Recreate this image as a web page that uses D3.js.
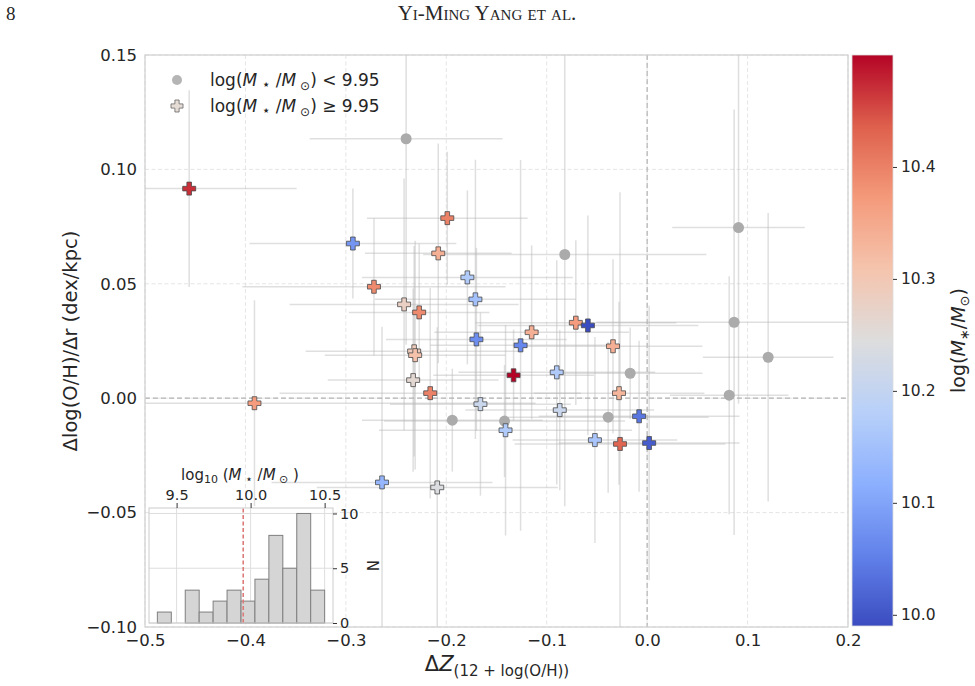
<!DOCTYPE html>
<html>
<head>
<meta charset="utf-8">
<script src="https://cdn.jsdelivr.net/npm/d3@7"></script>
<style>
body { margin: 0; background: #fff; }
svg text { font-family: "DejaVu Sans", sans-serif; fill: #262626; }
</style>
</head>
<body>
<svg id="chart" width="975" height="686"></svg>
<script>
// low mass galaxies, log(M*/Msun) < 9.95
const lowDZ = [-0.240, -0.082, 0.091, 0.0866, 0.1205, 0.0817, -0.0169, -0.0388, -0.194, -0.142]
const lowGrad = [0.1134, 0.0628, 0.0746, 0.0332, 0.0179, 0.0013, 0.0109, -0.0083, -0.0096, -0.0100]
const lowDZErr = [0.096, 0.141, 0.066, 0.137, 0.065, 0.059, 0.072, 0.100, 0.090, 0.120]
const lowGradErr = [0.090, 0.110, 0.077, 0.093, 0.063, 0.052, 0.020, 0.033, 0.0225, 0.0245]
const lowMass = [9.86, 9.64, 9.37, 9.58, 9.61, 9.70, 9.89, 9.77, 9.92, 9.81]

// high mass galaxies, log(M*/Msun) >= 9.95
const highDZ = [-0.456, -0.293, -0.199, -0.208, -0.272, -0.242, -0.227, -0.179, -0.171, -0.170,
    -0.126, -0.115, -0.071, -0.059, -0.034, -0.232, -0.231, -0.233, -0.216, -0.133,
    -0.090, -0.028, -0.391, -0.166, -0.087, -0.008, -0.141, -0.052, -0.027, 0.002,
    -0.264, -0.209]
const highGrad = [0.0916, 0.0676, 0.0787, 0.0633, 0.0487, 0.0410, 0.0375, 0.0528, 0.0432, 0.0257,
    0.0231, 0.0288, 0.0330, 0.0318, 0.0227, 0.0205, 0.0188, 0.0079, 0.0022, 0.0100,
    0.0113, 0.0022, -0.0022, -0.0026, -0.0052, -0.0079, -0.0140, -0.0183, -0.0200, -0.0196,
    -0.0368, -0.0390]
const highDZErr = [0.107, 0.103, 0.080, 0.073, 0.131, 0.114, 0.070, 0.105, 0.100, 0.090,
    0.090, 0.097, 0.100, 0.110, 0.089, 0.108, 0.090, 0.085, 0.150, 0.080,
    0.098, 0.085, 0.280, 0.090, 0.094, 0.100, 0.126, 0.082, 0.105, 0.090,
    0.110, 0.120]
const highGradErr = [0.043, 0.024, 0.029, 0.048, 0.030, 0.055, 0.030, 0.038, 0.061, 0.040,
    0.081, 0.038, 0.036, 0.048, 0.038, 0.046, 0.050, 0.040, 0.046, 0.020,
    0.049, 0.040, 0.045, 0.040, 0.035, 0.033, 0.046, 0.045, 0.110, 0.060,
    0.068, 0.070]
const highMass = [10.47, 10.08, 10.40, 10.34, 10.39, 10.28, 10.39, 10.17, 10.15, 10.07,
    10.06, 10.34, 10.37, 9.99, 10.34, 10.29, 10.31, 10.26, 10.40, 10.50,
    10.17, 10.33, 10.37, 10.21, 10.21, 10.04, 10.17, 10.16, 10.43, 10.01,
    10.13, 10.24]

const massCut = 9.95
const xTicks = [-0.5, -0.4, -0.3, -0.2, -0.1, 0.0, 0.1, 0.2]
const yTicks = [-0.10, -0.05, 0.00, 0.05, 0.10, 0.15]
const cbTicks = [10.0, 10.1, 10.2, 10.3, 10.4]
const histXTicks = [9.5, 10.0, 10.5]
const histYTicks = [0, 5, 10]
const histBins = 12

// coolwarm control colours
const coolwarm = ['#3b4cc0', '#6282ea', '#8db0fe', '#b8d0f9', '#dddddd', '#f5c4ad', '#f49a7b', '#de604d', '#b40426']

let svg = d3.select('#chart')

let plot = { left: 145, right: 848, top: 55, bottom: 627 }
let cb = { left: 852, right: 893, top: 55, bottom: 626 }
let ins = { left: 149, right: 333, top: 508, bottom: 623 }

let x = d3.scaleLinear().domain([-0.5, 0.2]).range([plot.left, plot.right])
let y = d3.scaleLinear().domain([-0.10, 0.15]).range([plot.bottom, plot.top])

let massExtent = d3.extent(highMass)
let colorScale = d3.scaleLinear()
    .domain(coolwarm.map((c, i) => massExtent[0] + (massExtent[1] - massExtent[0]) * i / (coolwarm.length - 1)))
    .range(coolwarm)
    .interpolate(d3.interpolateRgb)

function plusPath(s, a) {
    return `M${-a},${-s}H${a}V${-a}H${s}V${a}H${a}V${s}H${-a}V${a}H${-s}V${-a}H${-a}Z`
}

function rich(sel, parts) {
    parts.forEach(p => {
        sel.append('tspan')
        .text(p.t)
        .attr('font-style', p.i ? 'italic' : null)
        .attr('font-size', p.s || null)
        .attr('dy', p.dy || null)
    })
    return sel
}

// header
svg.append('text')
.attr('x', 6).attr('y', 20)
.style('font-family', '"Liberation Serif", serif')
.attr('font-size', 19)
.text('8')

svg.append('text')
.attr('x', 487).attr('y', 20)
.attr('text-anchor', 'middle')
.style('font-family', '"Liberation Serif", serif')
.style('font-variant', 'small-caps')
.attr('font-size', 21)
.text('Yi-Ming Yang et al.')

svg.append('defs').append('clipPath').attr('id', 'plot-clip')
.append('rect')
.attr('x', plot.left).attr('y', plot.top)
.attr('width', plot.right - plot.left).attr('height', plot.bottom - plot.top)

// grid
let grid = svg.append('g').attr('class', 'grid')
grid.selectAll('line.vx')
.data(xTicks)
.enter()
.append('line')
.attr('x1', d => x(d)).attr('x2', d => x(d))
.attr('y1', plot.top).attr('y2', plot.bottom)
grid.selectAll('line.hy')
.data(yTicks)
.enter()
.append('line')
.attr('x1', plot.left).attr('x2', plot.right)
.attr('y1', d => y(d)).attr('y2', d => y(d))
grid.selectAll('line')
.attr('stroke', '#e2e2e2')
.attr('stroke-width', 0.9)
.attr('stroke-dasharray', '4,2.5')

// zero lines
svg.append('line')
.attr('x1', x(0)).attr('x2', x(0)).attr('y1', plot.top).attr('y2', plot.bottom)
.attr('stroke', '#b3b3b3').attr('stroke-width', 1.2).attr('stroke-dasharray', '5,3')
svg.append('line')
.attr('x1', plot.left).attr('x2', plot.right).attr('y1', y(0)).attr('y2', y(0))
.attr('stroke', '#b3b3b3').attr('stroke-width', 1.2).attr('stroke-dasharray', '5,3')

let lowData = lowDZ.map((d, i) => ({ dz: d, g: lowGrad[i], dze: lowDZErr[i], ge: lowGradErr[i], m: lowMass[i] }))
let highData = highDZ.map((d, i) => ({ dz: d, g: highGrad[i], dze: highDZErr[i], ge: highGradErr[i], m: highMass[i] }))
let allData = lowData.concat(highData)

// error bars
let errs = svg.append('g').attr('clip-path', 'url(#plot-clip)')
errs.selectAll('line.ex')
.data(allData)
.enter()
.append('line')
.attr('x1', d => x(d.dz - d.dze)).attr('x2', d => x(d.dz + d.dze))
.attr('y1', d => y(d.g)).attr('y2', d => y(d.g))
errs.selectAll('line.ey')
.data(allData)
.enter()
.append('line')
.attr('x1', d => x(d.dz)).attr('x2', d => x(d.dz))
.attr('y1', d => y(d.g - d.ge)).attr('y2', d => y(d.g + d.ge))
errs.selectAll('line')
.attr('stroke', '#b8b8b8')
.attr('stroke-opacity', 0.45)
.attr('stroke-width', 1.5)

// markers
svg.append('g')
.selectAll('circle')
.data(lowData)
.enter()
.append('circle')
.attr('cx', d => x(d.dz))
.attr('cy', d => y(d.g))
.attr('r', 5.5)
.attr('fill', '#ababab')

svg.append('g')
.selectAll('path')
.data(highData)
.enter()
.append('path')
.attr('d', plusPath(6.5, 2.3))
.attr('transform', d => `translate(${x(d.dz)},${y(d.g)})`)
.attr('fill', d => colorScale(d.m))
.attr('stroke', '#4a4a4a')
.attr('stroke-width', 0.8)

// frame
svg.append('rect')
.attr('x', plot.left).attr('y', plot.top)
.attr('width', plot.right - plot.left).attr('height', plot.bottom - plot.top)
.attr('fill', 'none')
.attr('stroke', '#cfcfcf')
.attr('stroke-width', 1.2)

// axes
let xAxis = svg.append('g')
.attr('transform', `translate(0,${plot.bottom})`)
.call(d3.axisBottom(x).tickValues(xTicks).tickSize(0).tickPadding(7).tickFormat(d3.format('.1f')))
let yAxis = svg.append('g')
.attr('transform', `translate(${plot.left},0)`)
.call(d3.axisLeft(y).tickValues(yTicks).tickSize(0).tickPadding(8).tickFormat(d3.format('.2f')))
xAxis.select('.domain').remove()
yAxis.select('.domain').remove()
svg.selectAll('.tick text').attr('font-size', 16.5).style('font-family', '"DejaVu Sans", sans-serif').attr('fill', '#262626')

// axis labels
rich(svg.append('text')
.attr('x', 497).attr('y', 671)
.attr('text-anchor', 'middle'), [
    { t: 'Δ', s: 21 },
    { t: 'Z', s: 21, i: true },
    { t: '(12 + log(O/H))', s: 15, dy: 5 }
])

svg.append('text')
.attr('transform', `translate(77,${(plot.top + plot.bottom) / 2}) rotate(-90)`)
.attr('text-anchor', 'middle')
.attr('font-size', 19.5)
.text('Δlog(O/H)/Δr (dex/kpc)')

// legend
svg.append('circle').attr('cx', 177).attr('cy', 80).attr('r', 5).attr('fill', '#b5b5b5')
svg.append('path')
.attr('d', plusPath(6, 2.1))
.attr('transform', 'translate(177,106)')
.attr('fill', '#e6dcd6').attr('stroke', '#666').attr('stroke-width', 0.8)

let legendParts = (op) => [
    { t: 'log(' },
    { t: 'M', i: true },
    { t: ' ⋆', s: 14, dy: 3 },
    { t: ' /', dy: -3 },
    { t: 'M', i: true },
    { t: ' ⊙', s: 12, dy: 4 },
    { t: ') ' + op + ' 9.95', dy: -4 }
]
rich(svg.append('text').attr('x', 210).attr('y', 86).attr('font-size', 17), legendParts('<'))
rich(svg.append('text').attr('x', 210).attr('y', 112).attr('font-size', 17), legendParts('≥'))

// colorbar
let grad = svg.select('defs').append('linearGradient')
.attr('id', 'cw').attr('x1', 0).attr('x2', 0).attr('y1', 1).attr('y2', 0)
grad.selectAll('stop')
.data(coolwarm)
.enter()
.append('stop')
.attr('offset', (d, i) => i / (coolwarm.length - 1))
.attr('stop-color', d => d)

svg.append('rect')
.attr('x', cb.left).attr('y', cb.top)
.attr('width', cb.right - cb.left).attr('height', cb.bottom - cb.top)
.attr('fill', 'url(#cw)')
.attr('stroke', '#dddddd').attr('stroke-width', 0.8)

let cy = d3.scaleLinear().domain(massExtent).range([cb.bottom, cb.top])
let cbAxis = svg.append('g')
.attr('transform', `translate(${cb.right},0)`)
.call(d3.axisRight(cy).tickValues(cbTicks).tickSize(4).tickPadding(4).tickFormat(d3.format('.1f')))
cbAxis.select('.domain').remove()
cbAxis.selectAll('.tick line').attr('stroke', '#333')
cbAxis.selectAll('.tick text').attr('font-size', 15.5)

rich(svg.append('text')
.attr('transform', `translate(965,${(cb.top + cb.bottom) / 2}) rotate(-90)`)
.attr('text-anchor', 'middle')
.attr('font-size', 19), [
    { t: 'log(' },
    { t: 'M', i: true },
    { t: '∗', s: 13, dy: 4 },
    { t: '/', dy: -4 },
    { t: 'M', i: true },
    { t: '⊙', s: 13, dy: 4 },
    { t: ')', dy: -4 }
])

// inset histogram of stellar mass
let allMass = lowMass.concat(highMass)
let mExt = d3.extent(allMass)
let step = (mExt[1] - mExt[0]) / histBins
let bins = d3.bin()
.domain(mExt)
.thresholds(d3.range(1, histBins).map(i => mExt[0] + i * step))(allMass)
let pad = (mExt[1] - mExt[0]) * 0.05
let hx = d3.scaleLinear().domain([mExt[0] - pad, mExt[1] + pad]).range([ins.left, ins.right])
let hy = d3.scaleLinear().domain([0, d3.max(bins, b => b.length) * 1.05]).range([ins.bottom, ins.top])

let inset = svg.append('g').attr('class', 'inset')
inset.append('rect')
.attr('x', ins.left).attr('y', ins.top)
.attr('width', ins.right - ins.left).attr('height', ins.bottom - ins.top)
.attr('fill', '#fff')
inset.selectAll('line.gx')
.data(histXTicks)
.enter()
.append('line')
.attr('x1', d => hx(d)).attr('x2', d => hx(d))
.attr('y1', ins.top).attr('y2', ins.bottom)
.attr('stroke', '#dedede').attr('stroke-width', 1)
inset.selectAll('line.gy')
.data(histYTicks)
.enter()
.append('line')
.attr('x1', ins.left).attr('x2', ins.right)
.attr('y1', d => hy(d)).attr('y2', d => hy(d))
.attr('stroke', '#dedede').attr('stroke-width', 1)

inset.selectAll('rect.bar')
.data(bins)
.enter()
.append('rect')
.attr('class', 'bar')
.attr('x', d => hx(d.x0))
.attr('width', d => hx(d.x1) - hx(d.x0))
.attr('y', d => hy(d.length))
.attr('height', d => hy(0) - hy(d.length))
.attr('fill', '#d5d5d5')
.attr('stroke', '#7f7f7f')
.attr('stroke-width', 1)

inset.append('line')
.attr('x1', hx(massCut)).attr('x2', hx(massCut))
.attr('y1', ins.bottom).attr('y2', ins.top)
.attr('stroke', '#dd7b7b').attr('stroke-width', 1.6).attr('stroke-dasharray', '4,2.5')

inset.append('rect')
.attr('x', ins.left).attr('y', ins.top)
.attr('width', ins.right - ins.left).attr('height', ins.bottom - ins.top)
.attr('fill', 'none')
.attr('stroke', '#cccccc').attr('stroke-width', 1)

let hxAxis = inset.append('g')
.attr('transform', `translate(0,${ins.top})`)
.call(d3.axisTop(hx).tickValues(histXTicks).tickSize(5).tickPadding(3).tickFormat(d3.format('.1f')))
let hyAxis = inset.append('g')
.attr('transform', `translate(${ins.right},0)`)
.call(d3.axisRight(hy).tickValues(histYTicks).tickSize(4).tickPadding(3))
hxAxis.select('.domain').remove()
hyAxis.select('.domain').remove()
inset.selectAll('.tick line').attr('stroke', '#333')
inset.selectAll('.tick text').attr('font-size', 14.5)

rich(inset.append('text')
.attr('x', 240).attr('y', 480)
.attr('text-anchor', 'middle')
.attr('font-size', 15), [
    { t: 'log' },
    { t: '10', s: 11, dy: 3 },
    { t: ' (', dy: -3 },
    { t: 'M', i: true },
    { t: ' ⋆', s: 12, dy: 3 },
    { t: ' /', dy: -3 },
    { t: 'M', i: true },
    { t: ' ⊙', s: 11, dy: 3 },
    { t: ' )', dy: -3 }
])

inset.append('text')
.attr('transform', `translate(367,${(ins.top + ins.bottom) / 2}) rotate(90)`)
.attr('text-anchor', 'middle')
.attr('font-size', 15)
.text('N')
</script>
</body>
</html>
